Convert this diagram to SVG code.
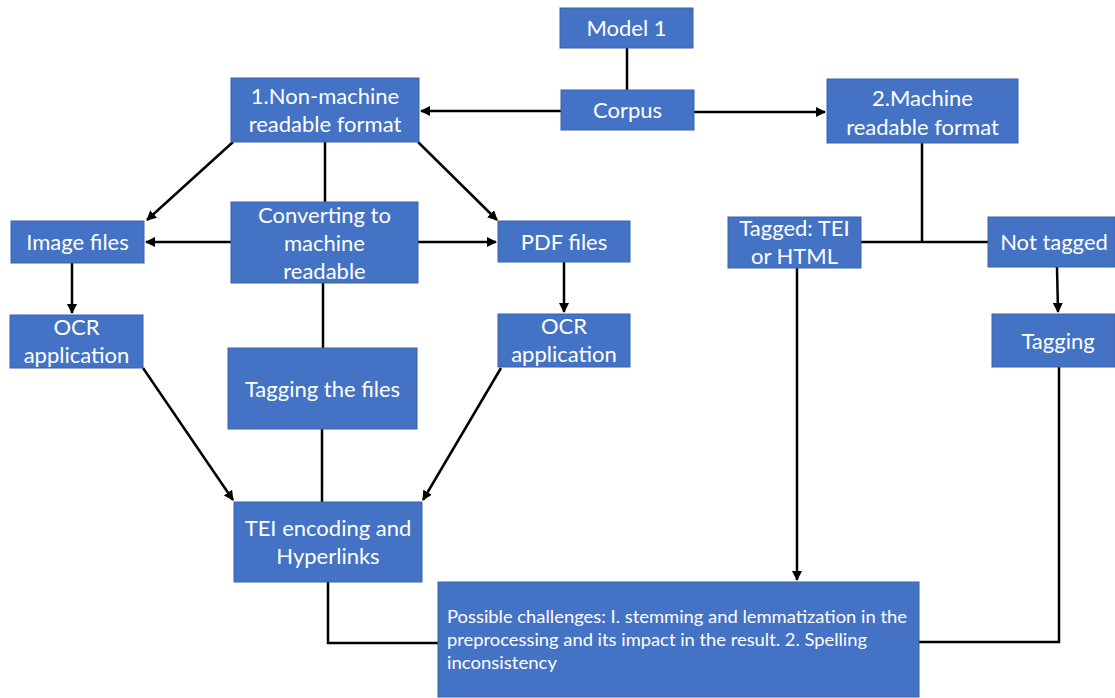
<svg xmlns="http://www.w3.org/2000/svg" width="1115" height="698" viewBox="0 0 1115 698">
  <style>
    .box { fill: #4472C4; stroke: #3A62A8; stroke-width: 1; }
    .lbl { fill: #FFFFFF; font-family: Lato, "Open Sans", sans-serif; font-size: 22px; text-anchor: middle; }
    .note { fill: #FFFFFF; font-family: Lato, "Open Sans", sans-serif; font-size: 16.5px; }
    .wire { fill: none; stroke: #000000; stroke-width: 2.5; }
    .arr { marker-end: url(#head); }
  </style>
  <defs>
    <marker id="head" viewBox="0 0 10 10" refX="9" refY="5" markerWidth="4" markerHeight="4" orient="auto" markerUnits="strokeWidth">
      <path d="M0,0 L10,5 L0,10 Z" fill="#000000"/>
    </marker>
  </defs>

  <!-- connectors -->
  <g id="connectors">
    <path class="wire" d="M627,48 V90"/>
    <path class="wire arr" d="M561,111 H421"/>
    <path class="wire arr" d="M694,112 H825"/>
    <path class="wire arr" d="M233,142 L147,220"/>
    <path class="wire" d="M325,142 V202"/>
    <path class="wire arr" d="M418,142 L497,220"/>
    <path class="wire arr" d="M231,242 H146"/>
    <path class="wire arr" d="M418,242 H496"/>
    <path class="wire arr" d="M72,263 V313"/>
    <path class="wire arr" d="M564,262 V312"/>
    <path class="wire" d="M323,283 V348"/>
    <path class="wire" d="M322,429 V502"/>
    <path class="wire arr" d="M143,368 L233,500"/>
    <path class="wire arr" d="M501,368 L423,500"/>
    <path class="wire" d="M328,582 V643 H438"/>
    <path class="wire" d="M922,143 V242"/>
    <path class="wire" d="M861,242 H988"/>
    <path class="wire arr" d="M797,268 V580"/>
    <path class="wire arr" d="M1057,267 L1058,312"/>
    <path class="wire" d="M1059,367 V642 H919"/>
  </g>

  <g id="model1">
    <rect class="box" x="560" y="8" width="133" height="40"/>
    <text class="lbl" x="626.5" y="36">Model 1</text>
  </g>
  <g id="corpus">
    <rect class="box" x="561" y="90" width="133" height="40"/>
    <text class="lbl" x="627.5" y="118">Corpus</text>
  </g>
  <g id="non-machine">
    <rect class="box" x="231" y="78" width="188" height="64"/>
    <text class="lbl" x="325" y="104">1.Non-machine</text>
    <text class="lbl" x="325" y="132">readable format</text>
  </g>
  <g id="machine">
    <rect class="box" x="827" y="79" width="191" height="64"/>
    <text class="lbl" x="922.5" y="106">2.Machine</text>
    <text class="lbl" x="922.5" y="135">readable format</text>
  </g>
  <g id="image-files">
    <rect class="box" x="11" y="221" width="133" height="42"/>
    <text class="lbl" x="77.5" y="250">Image files</text>
  </g>
  <g id="converting">
    <rect class="box" x="231" y="202" width="187" height="81"/>
    <text class="lbl" x="324.5" y="223">Converting to</text>
    <text class="lbl" x="324.5" y="251">machine</text>
    <text class="lbl" x="324.5" y="279">readable</text>
  </g>
  <g id="pdf-files">
    <rect class="box" x="498" y="221" width="132" height="41"/>
    <text class="lbl" x="564" y="250">PDF files</text>
  </g>
  <g id="ocr-left">
    <rect class="box" x="10" y="315" width="133" height="53"/>
    <text class="lbl" x="76.5" y="335">OCR</text>
    <text class="lbl" x="76.5" y="363">application</text>
  </g>
  <g id="ocr-right">
    <rect class="box" x="498" y="314" width="132" height="53"/>
    <text class="lbl" x="564" y="334">OCR</text>
    <text class="lbl" x="564" y="362">application</text>
  </g>
  <g id="tagging-files">
    <rect class="box" x="228" y="348" width="189" height="81"/>
    <text class="lbl" x="322.5" y="397">Tagging the files</text>
  </g>
  <g id="tei-encoding">
    <rect class="box" x="234" y="502" width="188" height="80"/>
    <text class="lbl" x="328" y="536">TEI encoding and</text>
    <text class="lbl" x="328" y="564">Hyperlinks</text>
  </g>
  <g id="tagged">
    <rect class="box" x="728" y="217" width="133" height="51"/>
    <text class="lbl" x="794.5" y="236">Tagged: TEI</text>
    <text class="lbl" x="794.5" y="264">or HTML</text>
  </g>
  <g id="not-tagged">
    <rect class="box" x="988" y="217" width="127" height="50"/>
    <text class="lbl" x="1054" y="250">Not tagged</text>
  </g>
  <g id="tagging">
    <rect class="box" x="992" y="314" width="123" height="53"/>
    <text class="lbl" x="1058" y="349">Tagging</text>
  </g>
  <g id="challenges">
    <rect class="box" x="438" y="582" width="481" height="115"/>
    <text class="note" x="447" y="623" textLength="460" lengthAdjust="spacingAndGlyphs">Possible challenges: I. stemming and lemmatization in the</text>
    <text class="note" x="447" y="646" textLength="420" lengthAdjust="spacingAndGlyphs">preprocessing and its impact in the result. 2. Spelling</text>
    <text class="note" x="447" y="669" textLength="110" lengthAdjust="spacingAndGlyphs">inconsistency</text>
  </g>
</svg>
